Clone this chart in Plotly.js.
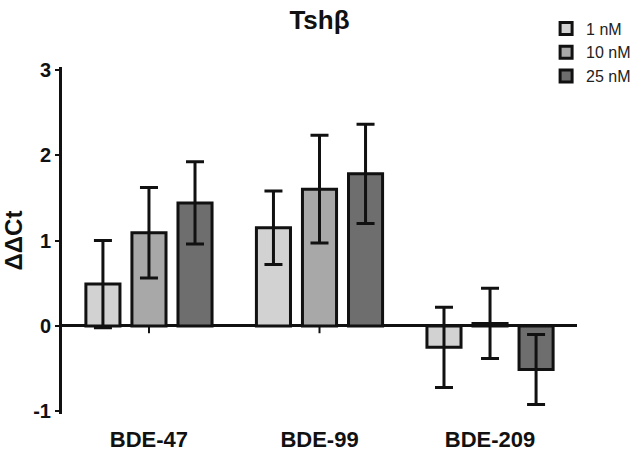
<!DOCTYPE html>
<html>
<head>
<meta charset="utf-8">
<script src="https://cdn.plot.ly/plotly-3.0.1.min.js"></script>
<style>html,body{margin:0;padding:0;background:#fff;}#chart{width:641px;height:455px;}</style>
</head>
<body>
<div id="chart"></div>
<script>
var categories = ["BDE-47", "BDE-99", "BDE-209"];
var seriesNames = ["1 nM", "10 nM", "25 nM"];
var values1nM = [0.49, 1.15, -0.25];
var values10nM = [1.09, 1.60, 0.03];
var values25nM = [1.44, 1.78, -0.51];
var errors1nM = [0.51, 0.43, 0.47];
var errors10nM = [0.53, 0.63, 0.41];
var errors25nM = [0.48, 0.58, 0.41];
var yTicks = [-1, 0, 1, 2, 3];

var fills = ["#d2d2d2", "#a8a8a8", "#6e6e6e"];
var allValues = [values1nM, values10nM, values25nM];
var allErrors = [errors1nM, errors10nM, errors25nM];

var traces = allValues.map(function (v, i) {
  return {
    type: "bar",
    name: seriesNames[i],
    x: categories,
    y: v,
    marker: {color: fills[i], line: {color: "#111", width: 3}},
    error_y: {type: "data", array: allErrors[i], visible: true, color: "#111", thickness: 3, width: 9}
  };
});

// small category tick marks hanging below the zero line
var zeroTicks = categories.map(function (c) {
  return {type: "line", xref: "x", yref: "y", x0: c, x1: c, y0: 0, y1: -0.085,
          line: {color: "#111", width: 2}, layer: "above"};
});

var yMin = -1.03, yMax = 3.03;
var font = "Liberation Sans, Arial, sans-serif";
var layout = {
  width: 641, height: 455,
  margin: {l: 62, r: 64, t: 67, b: 41, autoexpand: false},
  paper_bgcolor: "#fff", plot_bgcolor: "#fff",
  barmode: "group", bargap: 0.19, bargroupgap: 0.26,
  showlegend: true,
  shapes: zeroTicks,
  legend: {x: 0.94, y: 1.16, xanchor: "left", yanchor: "top",
           font: {family: font, size: 16, color: "#222"}, tracegroupgap: 0,
           itemwidth: 30, bgcolor: "rgba(0,0,0,0)"},
  title: {text: "<b>Tshβ</b>", x: 0.5, xref: "paper", xanchor: "center",
          y: 0.957, yref: "container", yanchor: "middle",
          font: {family: font, size: 26, color: "#111"}},
  xaxis: {type: "category", range: [-0.51, 2.51], showline: false, showgrid: false,
          zeroline: false, ticks: "", ticklabelstandoff: 10,
          tickfont: {family: font, size: 22, color: "#111", weight: "bold"}},
  yaxis: {range: [yMin, yMax], tickvals: yTicks, ticktext: yTicks.map(String),
          showline: true, linecolor: "#111", linewidth: 3, showgrid: false,
          zeroline: true, zerolinecolor: "#111", zerolinewidth: 3,
          ticks: "outside", ticklen: 4, tickwidth: 2, tickcolor: "#111",
          tickfont: {family: font, size: 20, color: "#111", weight: "bold"},
          title: {text: "<b>ΔΔCt</b>", standoff: 8, font: {family: font, size: 24, color: "#111"}}}
};

Plotly.newPlot("chart", traces, layout, {displayModeBar: false, staticPlot: true});
</script>
</body>
</html>
